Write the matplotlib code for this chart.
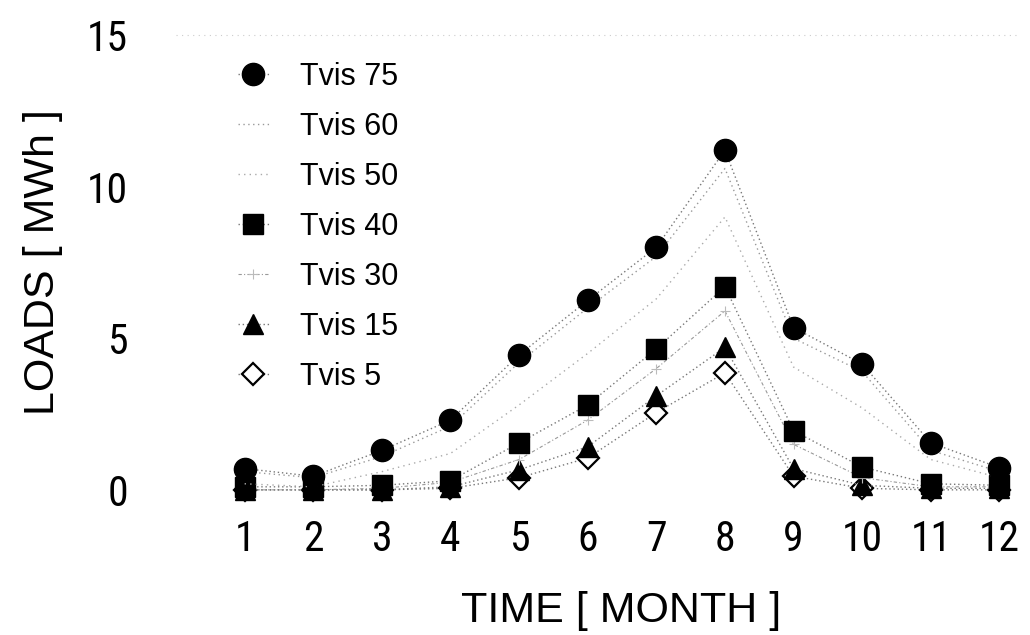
import matplotlib
matplotlib.use("Agg")
import matplotlib.pyplot as plt
from matplotlib import font_manager as fm

months = list(range(1, 13))
month_labels = [str(m) for m in months]
y_ticks = [0, 5, 10, 15]

tvis75 = [0.70, 0.45, 1.30, 2.30, 4.45, 6.25, 8.00, 11.20, 5.35, 4.15, 1.55, 0.73]
tvis60 = [0.60, 0.40, 1.10, 2.10, 4.20, 6.00, 7.70, 10.60, 5.00, 3.90, 1.30, 0.60]
tvis50 = [0.20, 0.10, 0.60, 1.20, 2.80, 4.50, 6.30, 9.00, 4.05, 2.70, 1.00, 0.40]
tvis40 = [0.10, 0.10, 0.15, 0.30, 1.55, 2.80, 4.65, 6.70, 1.95, 0.75, 0.20, 0.15]
tvis30 = [0.00, 0.00, 0.05, 0.25, 1.00, 2.30, 4.00, 5.90, 1.50, 0.40, 0.10, 0.10]
tvis15 = [0.00, 0.00, 0.00, 0.10, 0.66, 1.42, 3.10, 4.70, 0.70, 0.15, 0.05, 0.05]
tvis5 = [0.00, 0.00, 0.00, 0.05, 0.40, 1.05, 2.55, 3.86, 0.45, 0.05, 0.00, 0.00]

series_names = ["Tvis 75", "Tvis 60", "Tvis 50", "Tvis 40", "Tvis 30", "Tvis 15", "Tvis 5"]

avail = {f.name for f in fm.fontManager.ttflist}
if "Roboto Condensed" in avail:
    tick_fam, tick_size = "Roboto Condensed", 30
elif "Liberation Sans Narrow" in avail:
    tick_fam, tick_size = "Liberation Sans Narrow", 30
else:
    tick_fam, tick_size = "Liberation Sans", 28
plt.rcParams['font.family'] = ['Liberation Sans', 'DejaVu Sans']

W, H = 1030, 635
fig = plt.figure(figsize=(W / 100, H / 100), dpi=100)
ax_l, ax_r, ax_t, ax_b = 176, 1020, 29, 505
ax = fig.add_axes([ax_l / W, 1 - ax_b / H, (ax_r - ax_l) / W, (ax_b - ax_t) / H])

styles = {
    "Tvis 75": dict(marker='o', ms=16, mfc='black', mec='black', color='#777777', ls=(0, (1, 2)), lw=1.0, zorder=10),
    "Tvis 60": dict(marker='None', color='#999999', ls=(0, (1, 2.5)), lw=1.0, zorder=9),
    "Tvis 50": dict(marker='None', color='#aaaaaa', ls=(0, (1, 3)), lw=1.0, zorder=8),
    "Tvis 40": dict(marker='s', ms=15, mfc='black', mec='black', color='#777777', ls=(0, (1, 2)), lw=1.0, zorder=7),
    "Tvis 30": dict(marker='+', ms=7, mec='#bbbbbb', mew=0.8, color='#999999', ls=(0, (3, 2, 1, 2)), lw=0.8, zorder=6),
    "Tvis 15": dict(marker='^', ms=15, mfc='black', mec='black', color='#777777', ls=(0, (1, 2)), lw=1.0, zorder=5),
    "Tvis 5": dict(marker='D', ms=11, mfc='white', mec='black', mew=1.6, color='#777777', ls=(0, (1, 2)), lw=1.0, zorder=4),
}
data = {"Tvis 75": tvis75, "Tvis 60": tvis60, "Tvis 50": tvis50, "Tvis 40": tvis40,
        "Tvis 30": tvis30, "Tvis 15": tvis15, "Tvis 5": tvis5}

handles = []
for name in series_names:
    h, = ax.plot(months, data[name], label=name, **styles[name])
    handles.append(h)

ax.set_xlim(0.0, 12.3)
ax.set_ylim(-0.5, 15.2)
ax.set_xticks(months)
ax.set_xticklabels(month_labels, family=[tick_fam, 'DejaVu Sans'], fontsize=tick_size)
ax.set_yticks(y_ticks)
ax.set_yticklabels([str(v) for v in y_ticks], family=[tick_fam, 'DejaVu Sans'], fontsize=tick_size)
ax.tick_params(axis='both', length=0)
ax.tick_params(axis='y', pad=34.5)
ax.tick_params(axis='x', pad=10)
for s in ax.spines.values():
    s.set_visible(False)
ax.axhline(15, color='#cccccc', ls=(0, (1, 4)), lw=0.8, zorder=1)

ax.set_xlabel("TIME [ MONTH ]", fontsize=31)
ax.set_ylabel("LOADS [ MWh ]", fontsize=31)
ax.xaxis.set_label_coords((621 - ax_l) / (ax_r - ax_l), (ax_b - 591) / (ax_b - ax_t))
ax.yaxis.set_label_coords((63 - ax_l) / (ax_r - ax_l), (ax_b - 262) / (ax_b - ax_t))

leg = fig.legend(handles=handles, loc='upper left',
                 bbox_to_anchor=(238 / W, 1 - 62 / H), bbox_transform=fig.transFigure,
                 frameon=False, fontsize=22, handlelength=1.0, handletextpad=1.03,
                 labelspacing=0.655, numpoints=1, borderpad=0, borderaxespad=0)

fig.savefig("out.png", dpi=100, facecolor='white')
